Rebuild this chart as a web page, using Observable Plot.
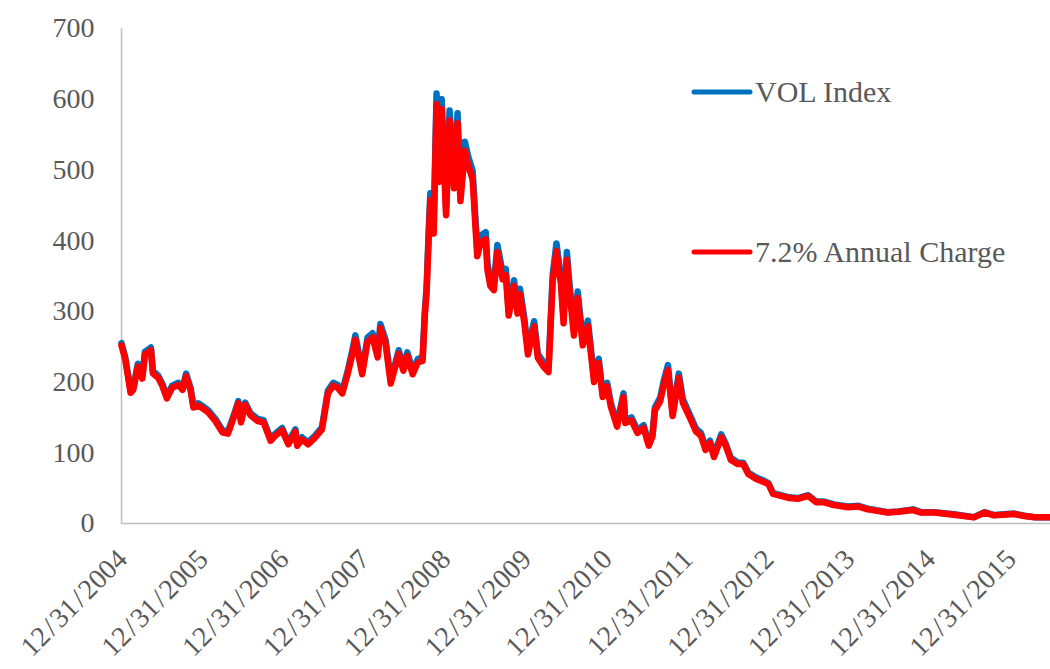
<!DOCTYPE html>
<html><head><meta charset="utf-8">
<script src="https://cdn.jsdelivr.net/npm/d3@7"></script>
<script src="https://cdn.jsdelivr.net/npm/@observablehq/plot@0.6"></script>
<style>body{margin:0;background:#fff;} #chart{width:1050px;height:669px;}</style>
</head><body><div id="chart"></div>
<script>
const dates = [
"2004-12-31","2005-01-17","2005-02-10","2005-02-22","2005-03-15","2005-04-04","2005-04-16","2005-05-05","2005-05-13","2005-05-22",
"2005-06-15","2005-07-03","2005-07-24","2005-08-17","2005-09-14","2005-10-03","2005-10-19","2005-11-08","2005-11-21","2005-12-13",
"2006-01-06","2006-01-27","2006-02-28","2006-04-01","2006-04-26","2006-05-19","2006-06-12","2006-06-24","2006-07-13","2006-08-06",
"2006-09-07","2006-10-04","2006-11-05","2006-11-26","2006-12-27","2007-01-24","2007-02-25","2007-03-05","2007-03-26","2007-04-23",
"2007-05-24","2007-06-25","2007-07-22","2007-08-15","2007-09-04","2007-09-25","2007-10-18","2007-11-06","2007-11-23","2007-12-24",
"2008-01-17","2008-02-09","2008-03-03","2008-03-15","2008-04-08","2008-05-01","2008-06-06","2008-06-27","2008-07-15","2008-08-08",
"2008-09-01","2008-09-22","2008-10-02","2008-10-10","2008-10-19","2008-10-27","2008-11-11","2008-11-24","2008-12-04","2008-12-17",
"2009-01-06","2009-01-22","2009-02-11","2009-02-27","2009-03-12","2009-04-01","2009-04-17","2009-05-06","2009-05-18","2009-05-27",
"2009-06-11","2009-07-04","2009-07-12","2009-07-25","2009-08-10","2009-08-26","2009-09-19","2009-10-03","2009-10-16","2009-11-09",
"2009-11-25","2009-12-06","2009-12-26","2010-01-11","2010-02-08","2010-02-25","2010-03-22","2010-04-14","2010-05-03","2010-05-20",
"2010-06-09","2010-06-21","2010-07-06","2010-07-14","2010-08-07","2010-08-24","2010-09-16","2010-10-09","2010-11-06","2010-11-27",
"2010-12-15","2011-01-04","2011-01-21","2011-02-18","2011-03-19","2011-03-27","2011-04-24","2011-05-21","2011-06-18","2011-07-11",
"2011-07-28","2011-08-08","2011-09-01","2011-09-17","2011-10-06","2011-10-27","2011-11-24","2011-12-12","2012-01-18","2012-02-10",
"2012-03-03","2012-03-24","2012-04-13","2012-05-01","2012-06-03","2012-06-23","2012-07-16","2012-08-17","2012-09-10","2012-10-03",
"2012-11-08","2012-12-09","2013-01-02","2013-01-23","2013-02-28","2013-04-06","2013-05-15","2013-07-01","2013-08-06","2013-09-11",
"2013-10-25","2013-12-28","2014-02-13","2014-03-27","2014-06-26","2014-08-12","2014-10-18","2014-11-23","2015-01-21","2015-04-21",
"2015-07-20","2015-09-06","2015-10-19","2016-01-18","2016-03-04","2016-04-18","2016-06-30"
];
const volIndex = [
255,235,188,192,226,209,243,247,249,216,
209,198,180,195,199,192,212,192,167,170,
165,160,148,132,130,150,173,146,171,156,
148,146,120,127,135,115,133,113,122,115,
124,136,188,199,196,188,214,240,266,216,
263,269,240,282,259,202,245,221,242,216,
233,235,300,334,410,467,420,608,495,600,
447,584,485,580,468,540,518,499,435,388,
407,412,368,344,338,394,354,360,301,344,
305,332,290,245,286,240,228,220,352,396,
348,291,384,352,273,328,259,287,206,233,
184,199,170,141,184,146,150,132,139,113,
127,164,178,202,224,156,212,176,150,134,
128,107,117,97,126,113,93,86,86,72,
65,61,57,43,40,37,36,40,31,31,
27,24,25,21,16,17,20,16,16,13,
9,16,12,14,11,9,9
];
const annualCharge = [
252,232,185,189,222,205,239,243,245,212,
206,195,177,192,196,189,208,189,164,167,
162,157,145,129,127,147,170,143,168,153,
145,143,117,124,132,112,130,110,119,112,
121,133,184,195,192,184,210,235,260,211,
257,263,235,276,253,198,240,216,237,211,
228,230,294,327,400,457,410,593,483,586,
436,570,474,566,456,527,505,487,424,378,
397,402,359,336,330,384,345,351,294,336,
297,324,283,239,279,234,222,214,343,385,
339,283,373,342,266,319,252,279,200,227,
179,194,165,137,179,142,146,128,135,110,
123,160,173,196,217,152,206,171,146,130,
124,104,114,94,122,110,90,84,84,70,
63,59,56,42,39,36,35,39,30,30,
26,23,24,20,15.5,16.5,19,15.5,15.5,12.5,
8.7,15.5,11.5,13.5,10.5,8.7,8.7
];
const yTicks = [0,100,200,300,400,500,600,700];
const xTickDates = ["2004-12-31","2005-12-31","2006-12-31","2007-12-31","2008-12-31","2009-12-31",
  "2010-12-31","2011-12-31","2012-12-31","2013-12-31","2014-12-31","2015-12-31"];
const seriesNames = ["VOL Index","7.2% Annual Charge"];
const seriesColors = ["#0070C0","#FF0000"];

const parse = d3.utcParse("%Y-%m-%d");
// date label, with hair spaces around the slashes to mimic the wider Garamond slash
const fmt = d => d3.utcFormat("%m/%d/%Y")(d).replace(/\//g, "\u200A/\u200A");
const volRows = dates.map((d,i)=>({date: parse(d), value: volIndex[i], series: seriesNames[0]}));
const chgRows = dates.map((d,i)=>({date: parse(d), value: annualCharge[i], series: seriesNames[1]}));
const xTicks = xTickDates.map(parse);
const FONT = "'Liberation Serif','Times New Roman',serif";
const GRAY = "#595959";
const AXIS = "#BFBFBF";

const plot = Plot.plot({
  width: 1050, height: 669,
  marginLeft: 121, marginRight: 0, marginTop: 28, marginBottom: 146,
  style: {fontFamily: FONT, fontSize: "28px", color: GRAY, background: "#fff", overflow: "visible"},
  x: {type: "utc", domain: [parse("2004-12-31"), parse("2016-06-30")], axis: null},
  y: {domain: [0, 700], axis: null},
  marks: [
    Plot.axisY({ticks: yTicks, tickSize: 0, tickPadding: 27, label: null, tickFormat: d => String(d)}),
    Plot.ruleY([0], {stroke: AXIS, strokeWidth: 1.5}),
    Plot.ruleX([parse("2004-12-31")], {stroke: AXIS, strokeWidth: 1.5}),
    Plot.line(volRows, {x: "date", y: "value", stroke: seriesColors[0], strokeWidth: 6.5, strokeLinejoin: "round", strokeLinecap: "round"}),
    Plot.line(chgRows, {x: "date", y: "value", stroke: seriesColors[1], strokeWidth: 6.5, strokeLinejoin: "round", strokeLinecap: "round"}),
    Plot.text(xTicks, {x: d => d, frameAnchor: "bottom", text: d => fmt(d), rotate: -45,
      textAnchor: "end", lineAnchor: "middle", dx: 1, dy: 31, fontSize: 28, fill: GRAY})
  ]
});

// legend (inside plot, right side)
const svg = d3.select(plot);
const legendY = [92, 252];
const lg = svg.append("g").attr("font-family", FONT).attr("font-size", 30).attr("text-anchor", "start");
seriesNames.forEach((name, i) => {
  lg.append("line").attr("x1", 694).attr("x2", 750).attr("y1", legendY[i]).attr("y2", legendY[i])
    .attr("stroke", seriesColors[i]).attr("stroke-width", 5).attr("stroke-linecap", "round");
  lg.append("text").attr("x", 755).attr("y", legendY[i]).attr("dy", "0.33em")
    .attr("text-anchor", "start").attr("fill", GRAY).text(name);
});
document.getElementById("chart").appendChild(plot);
</script>
</body></html>
